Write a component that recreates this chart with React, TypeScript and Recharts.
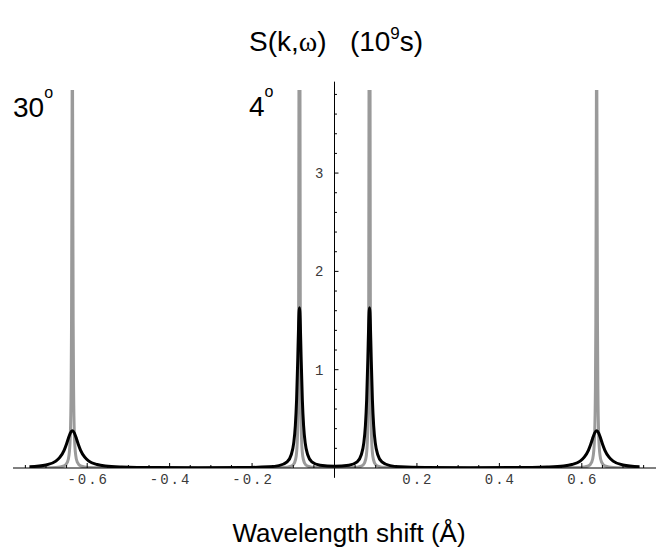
import { LineChart, Line, XAxis, YAxis, ReferenceLine } from "recharts";

// broad response (black)
const blackX = [
  -0.74, -0.7, -0.676, -0.666, -0.656, -0.651, -0.646, -0.641, -0.636, -0.631, -0.626, -0.621, -0.616, -0.606, -0.596,
  -0.576, -0.556, -0.516, -0.436, -0.33, -0.22, -0.16, -0.135, -0.115, -0.105, -0.099, -0.095, -0.092, -0.089, -0.087,
  -0.085, -0.083, -0.081, -0.078, -0.075, -0.071, -0.065, -0.055, -0.035, 0,
  0.035, 0.055, 0.065, 0.071, 0.075, 0.078, 0.081, 0.083, 0.085, 0.087, 0.089, 0.092, 0.095, 0.099, 0.105, 0.115, 0.135,
  0.16, 0.22, 0.33, 0.436, 0.516, 0.556, 0.576, 0.596, 0.606, 0.616, 0.621, 0.626, 0.631, 0.636, 0.641, 0.646, 0.651,
  0.656, 0.666, 0.676, 0.7, 0.74,
];
const blackY = [
  0.012, 0.031, 0.07, 0.11, 0.18, 0.234, 0.298, 0.355, 0.38, 0.355, 0.298, 0.234, 0.18, 0.11, 0.07,
  0.035, 0.02, 0.01, 0.004, 0.003, 0.0046, 0.012, 0.024, 0.063, 0.135, 0.253, 0.431, 0.69, 1.129, 1.467,
  1.63, 1.467, 1.129, 0.69, 0.431, 0.253, 0.135, 0.063, 0.028, 0.017,
  0.028, 0.063, 0.135, 0.253, 0.431, 0.69, 1.129, 1.467, 1.63, 1.467, 1.129, 0.69, 0.431, 0.253, 0.135, 0.063, 0.024,
  0.012, 0.0046, 0.003, 0.004, 0.01, 0.02, 0.035, 0.07, 0.11, 0.18, 0.234, 0.298, 0.355, 0.38, 0.355, 0.298, 0.234,
  0.18, 0.11, 0.07, 0.031, 0.012,
];

// sharp response (gray), runs off the top of the frame
const grayX = [
  -0.74, -0.676, -0.656, -0.648, -0.644, -0.641, -0.639, -0.638, -0.637, -0.636, -0.635, -0.634, -0.633, -0.631, -0.628,
  -0.624, -0.616, -0.596, -0.536, -0.35, -0.185, -0.125, -0.105, -0.097, -0.093, -0.09, -0.088, -0.087, -0.086, -0.085,
  -0.084, -0.083, -0.082, -0.08, -0.077, -0.073, -0.065, -0.045, 0,
  0.045, 0.065, 0.073, 0.077, 0.08, 0.082, 0.083, 0.084, 0.085, 0.086, 0.087, 0.088, 0.09, 0.093, 0.097, 0.105, 0.125,
  0.185, 0.35, 0.536, 0.596, 0.616, 0.624, 0.628, 0.631, 0.633, 0.634, 0.635, 0.636, 0.637, 0.638, 0.639, 0.641, 0.644,
  0.648, 0.656, 0.676, 0.74,
];
const grayY = [
  0.001, 0.0055, 0.022, 0.06, 0.134, 0.327, 0.805, 1.48, 2.98, 4.5, 2.98, 1.48, 0.805, 0.327, 0.134,
  0.06, 0.022, 0.0055, 0.001, 0.0005, 0.001, 0.005, 0.019, 0.053, 0.119, 0.3, 0.8, 1.655, 4.68, 12,
  4.68, 1.655, 0.8, 0.3, 0.119, 0.053, 0.019, 0.005, 0.002,
  0.005, 0.019, 0.053, 0.119, 0.3, 0.8, 1.655, 4.68, 12, 4.68, 1.655, 0.8, 0.3, 0.119, 0.053, 0.019, 0.005,
  0.001, 0.0005, 0.001, 0.0055, 0.022, 0.06, 0.134, 0.327, 0.805, 1.48, 2.98, 4.5, 2.98, 1.48, 0.805, 0.327, 0.134,
  0.06, 0.022, 0.0055, 0.001,
];

const xMajorTicks = [-0.6, -0.4, -0.2, 0.2, 0.4, 0.6];
const xMajorLabels = ["-0.6", "-0.4", "-0.2", "0.2", "0.4", "0.6"];
const xMinorTicks = [
  -0.75, -0.7, -0.65, -0.55, -0.5, -0.45, -0.35, -0.3, -0.25, -0.15, -0.1, -0.05,
  0.05, 0.1, 0.15, 0.25, 0.3, 0.35, 0.45, 0.5, 0.55, 0.65, 0.7, 0.75,
];
const yMajorTicks = [1, 2, 3];
const yMajorLabels = ["1", "2", "3"];
const yMinorTicks = [0.2, 0.4, 0.6, 0.8, 1.2, 1.4, 1.6, 1.8, 2.2, 2.4, 2.6, 2.8, 3.2, 3.4, 3.6, 3.8];

const blackData = blackX.map((x, i) => ({ x, y: blackY[i] }));
const grayData = grayX.map((x, i) => ({ x, y: grayY[i] }));
const xTicks = [...xMajorTicks, ...xMinorTicks].sort((a, b) => a - b);

const mono = "'Liberation Mono', 'DejaVu Sans Mono', monospace";
const sans = "'Liberation Sans', Arial, sans-serif";
const tickText = { fontFamily: mono, fontSize: 14, letterSpacing: 2, fill: "#3a3a3a" };

function XTick(props: any) {
  const { x, y, payload } = props;
  const idx = xMajorTicks.findIndex((t) => Math.abs(t - payload.value) < 1e-9);
  const major = idx >= 0;
  return (
    <g>
      <line x1={x} x2={x} y1={y} y2={y - (major ? 5 : 3)} stroke="#000" strokeWidth={1} />
      {major && (
        <text x={x + 1} y={y + 16} textAnchor="middle" style={tickText}>
          {xMajorLabels[idx]}
        </text>
      )}
    </g>
  );
}

const yLabel = (text: string) => (p: any) => {
  const vb = p.viewBox || {};
  return (
    <text x={vb.x - 9} y={vb.y + 5} textAnchor="end" style={tickText}>
      {text}
    </text>
  );
};

export default function App() {
  return (
    <div style={{ position: "absolute", left: 0, top: 0, width: 659, height: 554, background: "#fff" }}>
      <LineChart width={659} height={554} margin={{ top: 90, right: 3, left: 13, bottom: 56 }}>
        <XAxis
          type="number"
          dataKey="x"
          domain={[-0.78, 0.78]}
          ticks={xTicks}
          interval={0}
          tick={(p: any) => <XTick {...p} />}
          tickLine={false}
          tickSize={0}
          tickMargin={0}
          axisLine={{ stroke: "#000", strokeWidth: 1 }}
          height={30}
          allowDataOverflow
        />
        <YAxis hide type="number" domain={[0, 3.845]} allowDataOverflow />
        <ReferenceLine
          segment={[{ x: 0, y: -0.1 }, { x: 0, y: 3.93 }]}
          stroke="#000"
          strokeWidth={1}
          ifOverflow="visible"
        />
        {yMinorTicks.map((v) => (
          <ReferenceLine key={"m" + v} segment={[{ x: 0, y: v }, { x: 0.006, y: v }]} stroke="#000" strokeWidth={1} />
        ))}
        {yMajorTicks.map((v, i) => (
          <ReferenceLine
            key={"M" + v}
            segment={[{ x: 0, y: v }, { x: 0.0097, y: v }]}
            stroke="#000"
            strokeWidth={1}
            label={yLabel(yMajorLabels[i])}
          />
        ))}
        <Line
          data={grayData}
          dataKey="y"
          type="monotone"
          stroke="#9a9a9a"
          strokeWidth={3}
          dot={false}
          isAnimationActive={false}
        />
        <Line
          data={blackData}
          dataKey="y"
          type="monotone"
          stroke="#000"
          strokeWidth={3}
          dot={false}
          isAnimationActive={false}
        />
      </LineChart>
      <svg width={659} height={554} style={{ position: "absolute", left: 0, top: 0, pointerEvents: "none" }}>
        <text x={249} y={51} fontFamily={sans} fontSize={28} fill="#000" style={{ whiteSpace: "pre" }}>
          S(k,<tspan fontFamily="'Liberation Serif', serif">ω</tspan>)   (10
          <tspan dy={-12} fontSize={17}>9</tspan>
          <tspan dy={12}>s)</tspan>
        </text>
        <text x={13} y={117} fontFamily={sans} fontSize={28} fill="#000">
          30<tspan dy={-19} fontSize={16}>o</tspan>
        </text>
        <text x={249} y={116} fontFamily={sans} fontSize={28} fill="#000">
          4<tspan dy={-19} fontSize={16}>o</tspan>
        </text>
        <text x={349} y={542} textAnchor="middle" fontFamily={sans} fontSize={26} fill="#000">
          Wavelength shift (Å)
        </text>
      </svg>
    </div>
  );
}
